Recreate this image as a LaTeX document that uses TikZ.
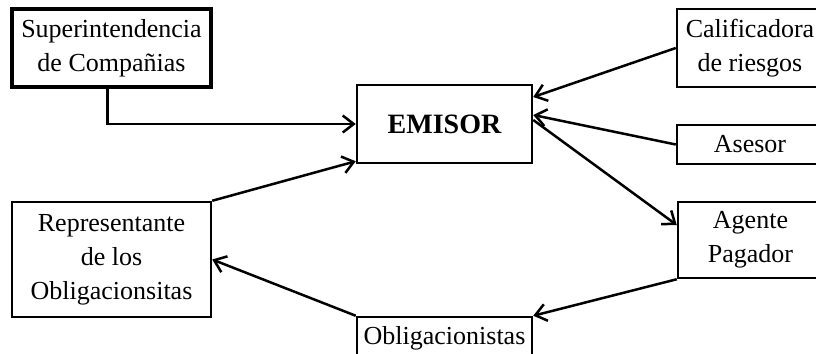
\documentclass[tikz,border=0pt]{standalone}
\usepackage{fontspec}
\setmainfont{Liberation Serif}
\usepackage{tikz}
\usetikzlibrary{arrows.meta,calc}

\begin{document}
\begin{tikzpicture}[x=0.5pt, y=-0.5pt,
    font=\fontsize{13}{17}\selectfont,
    entidad/.style={draw, line width=1.25pt, align=center, inner sep=1pt},
    flecha/.style={line width=1.25pt, -{Straight Barb[length=5.5pt,width=8.5pt]}}]
  \useasboundingbox (0,0) rectangle (816,354);
  \clip (0,0) rectangle (816,354);
  \node[entidad, line width=1.8pt, minimum width=99.5pt, minimum height=39pt] (sup) at (111.5,48) {Superintendencia\\de Compañias};
  \node[entidad, minimum width=87.5pt, minimum height=39pt, font=\fontsize{14}{17}\selectfont\bfseries] (emisor) at (444.5,124) {EMISOR};
  \node[entidad, minimum width=73pt, minimum height=39pt] (calif) at (750,48) {Calificadora\\de riesgos};
  \node[entidad, minimum width=73pt, minimum height=19.5pt] (asesor) at (750,144.5) {Asesor};
  \node[entidad, minimum width=72.5pt, minimum height=38pt] (agente) at (750.5,240) {Agente\\Pagador};
  \node[entidad, minimum width=99.5pt, minimum height=57.5pt] (rep) at (111.5,259.5) {Representante\\de los\\Obligacionsitas};
  \node[entidad, minimum width=87.5pt, minimum height=21pt] (oblig) at (444.5,338) {Obligacionistas};
  \draw[flecha] ([xshift=-2pt]sup.south) |- (emisor.west);
  \draw[flecha] (calif.west) -- ([yshift=13.5pt]emisor.east);
  \draw[flecha] (asesor.west) -- ([yshift=4.5pt]emisor.east);
  \draw[flecha] ([yshift=2pt]emisor.east) -- ([yshift=7.5pt]agente.west);
  \draw[flecha] (agente.south west) -- (oblig.north east);
  \draw[flecha] (oblig.north west) -- (rep.east);
  \draw[flecha] (rep.north east) -- ([yshift=1.5pt]emisor.south west);
\end{tikzpicture}
\end{document}
